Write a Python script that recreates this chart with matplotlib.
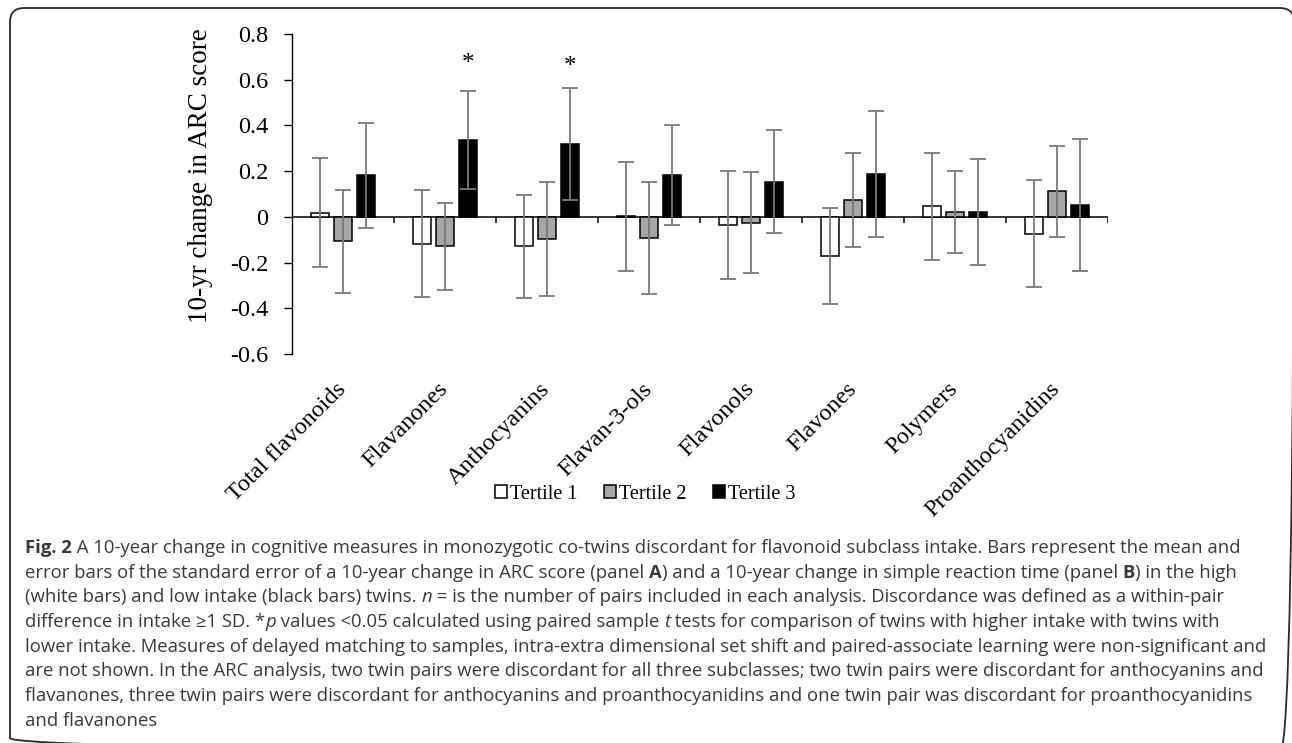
import numpy as np
import matplotlib.pyplot as plt
from matplotlib.patches import FancyBboxPatch
from matplotlib.ticker import FuncFormatter

categories = ['Total flavonoids', 'Flavanones', 'Anthocyanins', 'Flavan-3-ols',
              'Flavonols', 'Flavones', 'Polymers', 'Proanthocyanidins']
series = ['Tertile 1', 'Tertile 2', 'Tertile 3']
tertile1 = [0.019, -0.117, -0.128, 0.002, -0.036, -0.172, 0.046, -0.074]
tertile2 = [-0.107, -0.128, -0.098, -0.093, -0.025, 0.074, 0.020, 0.112]
tertile3 = [0.181, 0.337, 0.320, 0.183, 0.153, 0.188, 0.021, 0.052]
tertile1_se = [0.24, 0.235, 0.225, 0.24, 0.235, 0.21, 0.235, 0.235]
tertile2_se = [0.225, 0.19, 0.25, 0.245, 0.22, 0.205, 0.18, 0.20]
tertile3_se = [0.23, 0.215, 0.245, 0.22, 0.225, 0.275, 0.23, 0.29]
# significance stars (category index, height)
star_idx = [1, 2]
star_y = [0.67, 0.655]
yticks = [-0.6, -0.4, -0.2, 0, 0.2, 0.4, 0.6, 0.8]

caption = [
    [("Fig. 2", "bold", "normal"),
     (" A 10-year change in cognitive measures in monozygotic co-twins discordant for flavonoid subclass intake. Bars represent the mean and", "normal", "normal")],
    [("error bars of the standard error of a 10-year change in ARC score (panel ", "normal", "normal"),
     ("A", "bold", "normal"),
     (") and a 10-year change in simple reaction time (panel ", "normal", "normal"),
     ("B", "bold", "normal"),
     (") in the high", "normal", "normal")],
    [("(white bars) and low intake (black bars) twins. ", "normal", "normal"),
     ("n", "normal", "italic"),
     (" = is the number of pairs included in each analysis. Discordance was defined as a within-pair", "normal", "normal")],
    [("difference in intake \u22651 SD. *", "normal", "normal"),
     ("p", "normal", "italic"),
     (" values <0.05 calculated using paired sample ", "normal", "normal"),
     ("t", "normal", "italic"),
     (" tests for comparison of twins with higher intake with twins with", "normal", "normal")],
    [("lower intake. Measures of delayed matching to samples, intra-extra dimensional set shift and paired-associate learning were non-significant and", "normal", "normal")],
    [("are not shown. In the ARC analysis, two twin pairs were discordant for all three subclasses; two twin pairs were discordant for anthocyanins and", "normal", "normal")],
    [("flavanones, three twin pairs were discordant for anthocyanins and proanthocyanidins and one twin pair was discordant for proanthocyanidins", "normal", "normal")],
    [("and flavanones", "normal", "normal")],
]

plt.rcParams['font.family'] = 'Liberation Serif'
plt.rcParams['axes.unicode_minus'] = False

W, H = 1292, 743
fig = plt.figure(figsize=(W / 100, H / 100), dpi=100)

# page overlay in pixel units
ov = fig.add_axes([0, 0, 1, 1], zorder=0)
ov.set_xlim(0, W)
ov.set_ylim(H, 0)
ov.axis('off')
ov.add_patch(FancyBboxPatch((10, 8), 1284, 744, boxstyle='round,pad=0,rounding_size=14',
                            fill=False, ec='#2b2b2b', lw=1.3, clip_on=True))

ax = fig.add_axes([292 / W, 1 - 354 / H, 816 / W, 320 / H], zorder=1)
ax.patch.set_alpha(0)

x = np.arange(len(categories))
offsets = [-0.225, 0, 0.225]
colors = ['white', '#a6a6a6', 'black']
handles = []
for vals, se, off, col, lab in zip([tertile1, tertile2, tertile3],
                                   [tertile1_se, tertile2_se, tertile3_se],
                                   offsets, colors, series):
    b = ax.bar(x + off, vals, width=0.18, color=col, edgecolor='black',
               linewidth=1.1, label=lab, zorder=2)
    ax.errorbar(x + off, vals, yerr=se, fmt='none', ecolor='#7a7a7a',
                elinewidth=1.3, capsize=6, capthick=1.3, zorder=3)
    handles.append(b)

for i, sy in zip(star_idx, star_y):
    ax.text(x[i] + offsets[2], sy, '*', ha='center', va='center', fontsize=18)

ax.axhline(0, color='black', lw=1.1, zorder=1)
bounds = np.arange(len(categories) + 1) - 0.5
ax.vlines(bounds, -0.027, 0, color='black', lw=1.1)

ax.set_xlim(-0.5, len(categories) - 0.5)
ax.set_ylim(-0.6, 0.8)
ax.set_yticks(yticks)
ax.yaxis.set_major_formatter(FuncFormatter(lambda v, p: '0' if abs(v) < 1e-9 else f'{v:.1f}'))
ax.tick_params(axis='y', direction='out', length=6, width=1, pad=11, labelsize=17.5)
ax.set_xticks(x)
ax.set_xticklabels(categories, rotation=45, ha='right', va='center',
                   rotation_mode='anchor', fontsize=17.5)
ax.tick_params(axis='x', length=0, pad=23)
for s in ['top', 'right', 'bottom']:
    ax.spines[s].set_visible(False)
ax.spines['left'].set_linewidth(1)
ax.set_ylabel('10-yr change in ARC score', fontsize=19.5)
ax.yaxis.set_label_coords(-0.097, 0.556)

fig.legend(handles, series, loc='center', bbox_to_anchor=(645 / W, 1 - 494 / H),
           ncol=3, frameon=False, fontsize=14.5, handlelength=0.6, handleheight=0.6,
           handletextpad=0.15, columnspacing=1.3)

# caption with mixed bold / italic runs
r = fig.canvas.get_renderer()
cap_kw = dict(family=['Open Sans', 'DejaVu Sans'], fontsize=13.3, color='#3a3a3a')


def run_width(s, **kw):
    t1 = ov.text(0, 0, '|' + s + '|', **kw)
    t2 = ov.text(0, 0, '||', **kw)
    w = t1.get_window_extent(r).width - t2.get_window_extent(r).width
    t1.remove()
    t2.remove()
    return w


for li, line in enumerate(caption):
    xpos = 25
    ypos = 553 + li * 24.7
    for s, wt, st in line:
        ov.text(xpos, ypos, s, va='baseline', ha='left', fontweight=wt, fontstyle=st, **cap_kw)
        xpos += run_width(s, fontweight=wt, fontstyle=st, **cap_kw)

fig.savefig('out.png', dpi=100)
